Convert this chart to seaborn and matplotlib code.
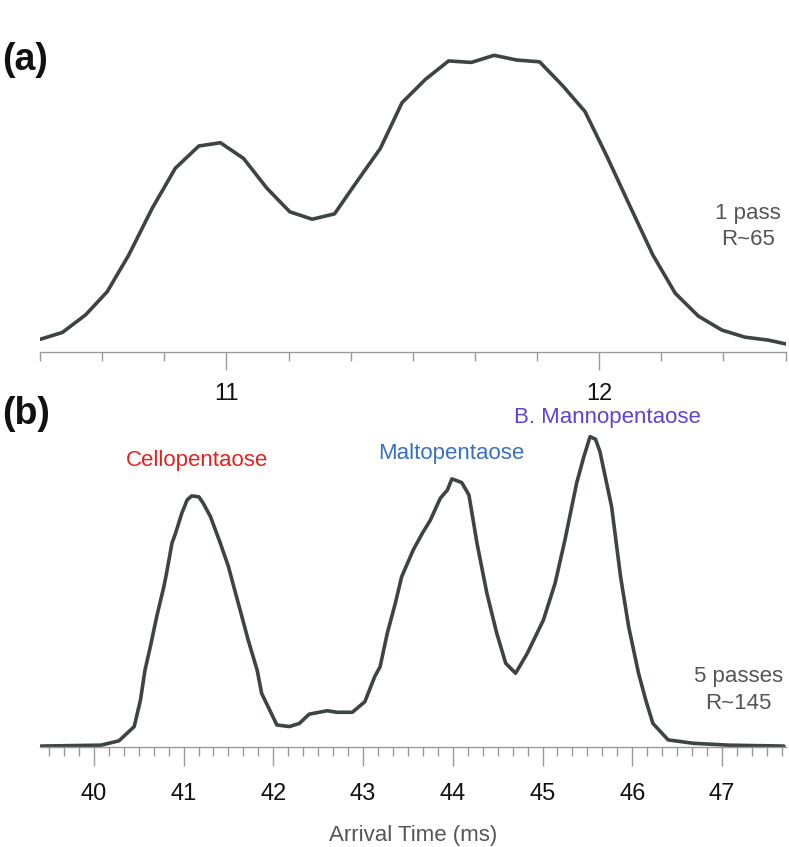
import numpy as np
import pandas as pd
import matplotlib
matplotlib.use("Agg")
import matplotlib.pyplot as plt
from matplotlib.ticker import MultipleLocator, FixedLocator
import seaborn as sns

sns.set_theme(style="white")
plt.rcParams['font.family'] = ['Liberation Sans', 'DejaVu Sans']

# ---------------- data ----------------
# (a) 1 pass
time_a = [10.501, 10.560, 10.622, 10.680, 10.738, 10.801, 10.863, 10.926, 10.984,
          11.046, 11.109, 11.170, 11.230, 11.290, 11.350, 11.413, 11.471, 11.534,
          11.596, 11.657, 11.718, 11.779, 11.840, 11.903, 11.962, 12.021, 12.081,
          12.144, 12.204, 12.266, 12.329, 12.391, 12.454, 12.501]
signal_a = [4.2, 6.5, 12.4, 20.2, 32.6, 48.4, 61.9, 69.4, 70.5,
            65.2, 55.1, 47.2, 44.7, 46.5, 57.4, 68.6, 84.0, 91.9,
            98.1, 97.6, 100.0, 98.4, 97.8, 89.6, 81.0, 65.8, 49.5,
            32.6, 19.7, 12.0, 7.3, 4.9, 3.9, 2.6]

# (b) 5 passes
time_b = [39.41, 40.08, 40.28, 40.45, 40.52, 40.57, 40.63, 40.70, 40.78, 40.81,
          40.87, 40.91, 40.98, 41.04, 41.09, 41.17, 41.22, 41.30, 41.41, 41.50,
          41.56, 41.63, 41.72, 41.82, 41.87, 42.04, 42.18, 42.29, 42.40, 42.60,
          42.71, 42.88, 43.02, 43.13, 43.19, 43.27, 43.36, 43.43, 43.56, 43.66,
          43.75, 43.86, 43.94, 43.99, 44.10, 44.18, 44.27, 44.38, 44.49, 44.59,
          44.70, 44.83, 45.01, 45.14, 45.25, 45.38, 45.46, 45.53, 45.59, 45.64,
          45.77, 45.87, 45.96, 46.07, 46.15, 46.23, 46.40, 46.68, 47.07, 47.69]
signal_b = [0.2, 0.5, 1.9, 6.5, 15.1, 24.7, 32.3, 41.9, 51.6, 55.9,
            65.6, 68.8, 75.3, 79.6, 80.9, 80.6, 78.5, 74.2, 65.6, 58.1,
            51.6, 44.1, 34.4, 24.7, 17.2, 7.0, 6.5, 7.5, 10.5, 11.6,
            11.1, 11.1, 14.5, 22.6, 25.8, 36.6, 46.3, 54.8, 63.5, 68.8,
            73.1, 80.1, 82.8, 86.4, 85.2, 81.2, 65.6, 49.5, 36.6, 26.9,
            23.7, 30.1, 40.9, 52.7, 66.7, 85.0, 93.5, 100.0, 99.2, 95.2,
            77.4, 54.8, 38.7, 23.7, 15.1, 7.5, 2.2, 1.1, 0.5, 0.2]

ticks_a = [11, 12]
ticks_b = [40, 41, 42, 43, 44, 45, 46, 47]

peak_names = ["Cellopentaose", "Maltopentaose", "B. Mannopentaose"]
peak_x = [41.15, 43.98, 45.72]
peak_y = [92.2, 94.6, 106.2]
peak_colors = ["#e0231f", "#3a70c2", "#5a45d4"]

df_a = pd.DataFrame({"t": time_a, "s": signal_a})
df_b = pd.DataFrame({"t": time_b, "s": signal_b})

# ---------------- figure ----------------
W, H = 789, 847
fig = plt.figure(figsize=(W / 100, H / 100), dpi=100)

def px_axes(left, right, top, bottom):
    return fig.add_axes([left / W, 1 - bottom / H, (right - left) / W, (bottom - top) / H])

line_col = "#3e4343"
axis_col = "#9a9a9a"
txt_gray = "#555555"

ax_a = px_axes(40, 786, 20, 351.7)
ax_b = px_axes(40, 785.7, 400, 746.7)

sns.lineplot(data=df_a, x="t", y="s", ax=ax_a, color=line_col, lw=2.6)
sns.lineplot(data=df_b, x="t", y="s", ax=ax_b, color=line_col, lw=2.6)

ax_a.set_xlim(10.5, 12.501)
ax_a.set_ylim(0, (351.7 - 20) / 2.964)
ax_b.set_xlim(39.40, 47.71)
ax_b.set_ylim(0, (746.7 - 400) / 3.10)

for ax, ticks in ((ax_a, ticks_a), (ax_b, ticks_b)):
    for sp in ("top", "right", "left"):
        ax.spines[sp].set_visible(False)
    ax.spines["bottom"].set_color(axis_col)
    ax.spines["bottom"].set_linewidth(1.0)
    ax.set_yticks([])
    ax.set_ylabel("")
    ax.set_xlabel("")
    ax.xaxis.set_major_locator(FixedLocator(ticks))
    ax.xaxis.set_minor_locator(MultipleLocator(1 / 6))
    ax.set_xticklabels([str(t) for t in ticks])
    ax.tick_params(axis="x", which="major", direction="out", length=13, width=1.0,
                   color=axis_col, labelsize=17, labelcolor="#111111", pad=9.5,
                   bottom=True)
    ax.tick_params(axis="x", which="minor", direction="out", length=6.3, width=1.0,
                   color=axis_col, bottom=True)
    ax.set_facecolor("none")
    ax.patch.set_alpha(0)

ax_b.tick_params(axis="x", which="minor", length=6.7)
ax_b.tick_params(axis="x", which="major", length=13.9, pad=12.5)

ax_b.set_xlabel("Arrival Time (ms)", fontsize=16, color=txt_gray, labelpad=14)

# peak labels
for name, x, y, c in zip(peak_names, peak_x, peak_y, peak_colors):
    ax_b.text(x, y, name, color=c, fontsize=16, ha="center", va="center")

ax_b.text(47.18, 22.6, "5 passes", color=txt_gray, fontsize=16, ha="center", va="center")
ax_b.text(47.18, 14.0, "R~145", color=txt_gray, fontsize=16, ha="center", va="center")
ax_a.text(12.398, 46.7, "1 pass", color=txt_gray, fontsize=16, ha="center", va="center")
ax_a.text(12.398, 37.7, "R~65", color=txt_gray, fontsize=16, ha="center", va="center")

fig.text(2 / W, 1 - 60 / H, "(a)", fontsize=27, fontweight="bold", color="#111111",
         ha="left", va="center")
fig.text(2 / W, 1 - 414 / H, "(b)", fontsize=27, fontweight="bold", color="#111111",
         ha="left", va="center")

fig.savefig("out.png", dpi=100, facecolor="white")
